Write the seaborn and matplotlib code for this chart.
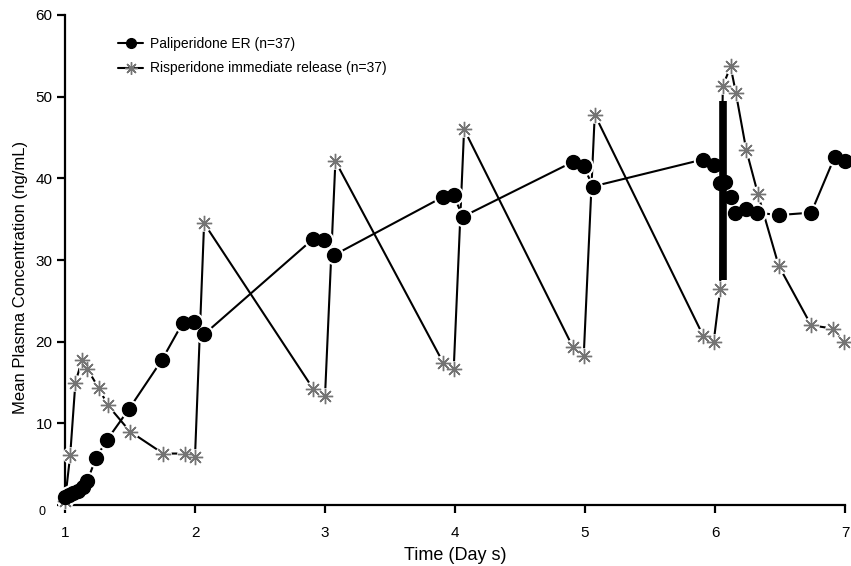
import numpy as np
import pandas as pd
import matplotlib
matplotlib.use("Agg")
import matplotlib.pyplot as plt
import seaborn as sns
from matplotlib.lines import Line2D
from matplotlib.transforms import ScaledTranslation

# Paliperidone ER, mean plasma concentration (ng/mL) vs time (days)
pali_day = [1.00, 1.03, 1.06, 1.10, 1.14, 1.17, 1.24, 1.32, 1.49, 1.745,
            1.905, 1.99, 2.07, 2.91, 2.99, 3.07, 3.905, 3.99, 4.06, 4.905,
            4.99, 5.06, 5.905, 5.99, 6.04, 6.08, 6.12, 6.15, 6.24, 6.32,
            6.49, 6.74, 6.92, 7.00]
pali_conc = [1.0, 1.2, 1.5, 1.75, 2.2, 2.9, 5.8, 7.9, 11.7, 17.75,
             22.3, 22.4, 20.9, 32.6, 32.4, 30.6, 37.7, 37.9, 35.3, 42.0,
             41.5, 39.0, 42.3, 41.6, 39.4, 39.5, 37.7, 35.8, 36.2, 35.8,
             35.5, 35.8, 42.6, 42.1]

# Risperidone immediate release
risp_day = [1.00, 1.04, 1.08, 1.13, 1.17, 1.26, 1.33, 1.50, 1.755, 1.92,
            2.00, 2.07, 2.91, 3.00, 3.08, 3.91, 3.99, 4.07, 4.905, 4.99,
            5.075, 5.91, 5.99, 6.04, 6.06, 6.12, 6.16, 6.24, 6.33, 6.49,
            6.74, 6.91, 6.99]
risp_conc = [0.5, 6.1, 15.0, 17.7, 16.7, 14.3, 12.2, 9.0, 6.3, 6.3,
             5.9, 34.5, 14.2, 13.3, 42.1, 17.4, 16.6, 46.0, 19.4, 18.2,
             47.8, 20.7, 20.0, 26.4, 51.3, 53.7, 50.5, 43.5, 38.1, 29.3,
             22.0, 21.6, 19.9]

# thick vertical bar drawn on day 6
bar_day = 6.06
bar_low, bar_high = 27.5, 49.5

labels = ["Paliperidone ER (n=37)", "Risperidone immediate release (n=37)"]
x_ticks = [1, 2, 3, 4, 5, 6, 7]
y_ticks = [0, 10, 20, 30, 40, 50, 60]

sns.set_style("ticks")
plt.rcParams['font.family'] = ['Liberation Sans', 'DejaVu Sans']
plt.rcParams['text.color'] = 'black'
plt.rcParams['axes.labelcolor'] = 'black'

pali = pd.DataFrame({"day": pali_day, "conc": pali_conc})
risp = pd.DataFrame({"day": risp_day, "conc": risp_conc})

fig = plt.figure(figsize=(8.51, 5.66), dpi=100)
ax = fig.add_axes([65 / 851, 61 / 566, 780 / 851, 490 / 566])

star = (8, 2, 0)
grey = "#747474"

# connecting lines
sns.lineplot(data=risp, x="day", y="conc", ax=ax, color="black", lw=1.5,
             estimator=None, sort=False, zorder=2)
sns.lineplot(data=pali, x="day", y="conc", ax=ax, color="black", lw=1.5,
             estimator=None, sort=False, zorder=2)

# white halos so the lines break at the markers
ax.plot(risp["day"], risp["conc"], "o", color="white", ms=11, zorder=3, clip_on=False)
ax.plot(pali["day"], pali["conc"], "o", color="white", ms=13, zorder=3, clip_on=False)

# markers
ax.plot(risp["day"], risp["conc"], ls="none", marker=star, ms=11,
        mec=grey, mew=1.0, zorder=4, clip_on=False)
ax.plot(pali["day"], pali["conc"], ls="none", marker="o", ms=10,
        color="black", mec="black", zorder=5, clip_on=False)

ax.vlines(bar_day, bar_low, bar_high, color="black", lw=5.5, zorder=6)

ax.set_xlim(1, 7)
ax.set_ylim(0, 60)
ax.set_xticks(x_ticks)
ax.set_yticks(y_ticks)
ax.set_xticklabels([str(t) for t in x_ticks])
ax.set_yticklabels([str(t) for t in y_ticks])

sns.despine(ax=ax)
for side in ["left", "bottom"]:
    ax.spines[side].set_linewidth(1.6)
    ax.spines[side].set_color("black")
ax.tick_params(axis="both", direction="out", length=6, width=1.6,
               colors="black", labelsize=11)
ax.tick_params(axis="x", pad=9)
ax.tick_params(axis="y", pad=3)

# the zero label sits lower and smaller
zero = ax.get_yticklabels()[0]
zero.set_fontsize(9)
zero.set_transform(zero.get_transform() + ScaledTranslation(-5 / 72, -4 / 72, fig.dpi_scale_trans))

ax.set_xlabel("Time (Day s)", fontsize=13, color="black")
ax.set_ylabel("Mean Plasma Concentration (ng/mL)", fontsize=12, color="black")
ax.xaxis.set_label_coords(0.5, -0.085)
ax.yaxis.set_label_coords(-0.048, 0.465)

handles = [
    Line2D([], [], color="black", lw=1.5, marker="o", ms=7, mfc="black", mec="black"),
    Line2D([], [], color="black", lw=1.5, marker=star, ms=9, mec=grey, mew=1.0),
]
ax.legend(handles, labels, loc="upper left", bbox_to_anchor=(0.068, 0.955),
          frameon=False, fontsize=10, borderpad=0, borderaxespad=0,
          handlelength=1.8, handletextpad=0.5, labelspacing=0.75,
          labelcolor="black")

fig.savefig("out.png", dpi=100)
